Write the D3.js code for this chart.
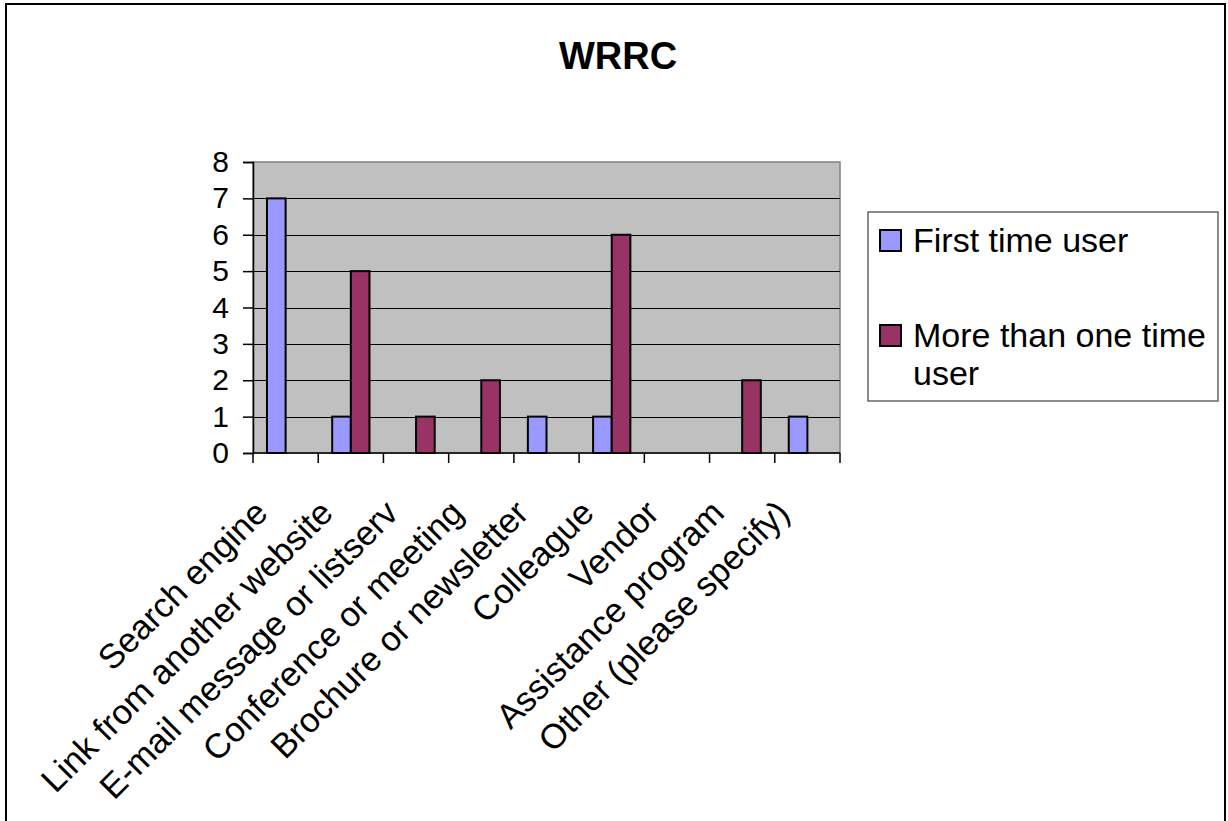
<!DOCTYPE html>
<html>
<head>
<meta charset="utf-8">
<script src="https://cdn.jsdelivr.net/npm/d3@7"></script>
<style>
  html, body { margin: 0; padding: 0; background: #fff; }
  svg { display: block; }
  text { font-family: "Liberation Sans", Arial, sans-serif; }
</style>
</head>
<body>
<svg id="chart" width="1228" height="821"></svg>
<script>
const title = "WRRC";
const categories = [
  "Search engine",
  "Link from another website",
  "E-mail message or listserv",
  "Conference or meeting",
  "Brochure or newsletter",
  "Colleague",
  "Vendor",
  "Assistance program",
  "Other (please specify)"
];
const seriesNames = ["First time user", "More than one time user"];
const firstTime = [7, 1, 0, 0, 1, 1, 0, 0, 1];
const moreThanOnce = [0, 5, 1, 2, 0, 6, 0, 2, 0];
const yTicks = [0, 1, 2, 3, 4, 5, 6, 7, 8];
const colors = ["#9999FF", "#993366"];

const svg = d3.select("#chart");

// outer border
svg.append("rect")
  .attr("x", 6).attr("y", 4).attr("width", 1219).attr("height", 830)
  .attr("fill", "#fff").attr("stroke", "#000").attr("stroke-width", 2);

// title
svg.append("text")
  .attr("x", 618).attr("y", 69)
  .attr("text-anchor", "middle")
  .attr("font-size", 38).attr("font-weight", "bold")
  .text(title);

const plot = { left: 253, right: 840, top: 162, bottom: 453 };

const x = d3.scaleBand().domain(categories).range([plot.left, plot.right]).paddingInner(0).paddingOuter(0);
const y = d3.scaleLinear().domain([0, 8]).range([plot.bottom, plot.top]);

// plot background
svg.append("rect")
  .attr("x", plot.left).attr("y", plot.top)
  .attr("width", plot.right - plot.left).attr("height", plot.bottom - plot.top)
  .attr("fill", "#C0C0C0").attr("stroke", "#808080").attr("stroke-width", 1.5);

// gridlines
svg.append("g").selectAll("line")
  .data(yTicks.filter(t => t > 0 && t < 8))
  .join("line")
  .attr("x1", plot.left).attr("x2", plot.right)
  .attr("y1", d => Math.round(y(d)) + 0.5).attr("y2", d => Math.round(y(d)) + 0.5)
  .attr("stroke", "#000").attr("stroke-width", 1);

// bars
const bw = x.bandwidth() / 3.5;
const seriesData = [firstTime, moreThanOnce];
seriesData.forEach((vals, si) => {
  svg.append("g").selectAll("rect")
    .data(vals.map((v, i) => ({ v, c: categories[i] })).filter(d => d.v > 0))
    .join("rect")
    .attr("x", d => x(d.c) + x.bandwidth() / 2 - bw + si * bw)
    .attr("y", d => y(d.v))
    .attr("width", bw)
    .attr("height", d => y(0) - y(d.v))
    .attr("fill", colors[si])
    .attr("stroke", "#000").attr("stroke-width", 2);
});

// y axis
const yAxis = d3.axisLeft(y).tickValues(yTicks).tickSize(10).tickPadding(14).tickFormat(d3.format("d"));
const gy = svg.append("g").attr("transform", `translate(${plot.left},0)`).call(yAxis);
gy.select(".domain").attr("stroke", "#000").attr("stroke-width", 1.5);
gy.selectAll(".tick line").attr("stroke", "#000").attr("stroke-width", 1.5);
gy.selectAll(".tick text")
  .attr("font-size", 30).attr("fill", "#000")
  .attr("font-family", "'Liberation Sans', Arial, sans-serif");

// x axis line and ticks at category boundaries
svg.append("line")
  .attr("x1", plot.left).attr("x2", plot.right)
  .attr("y1", plot.bottom).attr("y2", plot.bottom)
  .attr("stroke", "#000").attr("stroke-width", 1.5);
const boundaries = categories.map(c => x(c)).concat([plot.right]);
svg.append("g").selectAll("line")
  .data(boundaries)
  .join("line")
  .attr("x1", d => d).attr("x2", d => d)
  .attr("y1", plot.bottom).attr("y2", plot.bottom + 10)
  .attr("stroke", "#000").attr("stroke-width", 1.5);

// category labels rotated -45
svg.append("g").selectAll("text")
  .data(categories)
  .join("text")
  .attr("transform", d => `translate(${x(d) + x.bandwidth() / 2 - 16},${515}) rotate(-45)`)
  .attr("text-anchor", "end")
  .attr("font-size", 34.5)
  .text(d => d);

// legend
const lg = svg.append("g");
lg.append("rect")
  .attr("x", 868).attr("y", 212).attr("width", 350).attr("height", 189)
  .attr("fill", "#fff").attr("stroke", "#666").attr("stroke-width", 1.5);
const legendItems = [
  { name: seriesNames[0], lines: ["First time user"], y: 230 },
  { name: seriesNames[1], lines: ["More than one time", "user"], y: 325 }
];
legendItems.forEach((it, i) => {
  lg.append("rect")
    .attr("x", 880).attr("y", it.y).attr("width", 21).attr("height", 21)
    .attr("fill", colors[i]).attr("stroke", "#000").attr("stroke-width", 2);
  const t = lg.append("text").attr("x", 913).attr("y", it.y + 22).attr("font-size", 34);
  it.lines.forEach((ln, j) => {
    t.append("tspan").attr("x", 913).attr("dy", j === 0 ? 0 : 38).text(ln);
  });
});
</script>
</body>
</html>
